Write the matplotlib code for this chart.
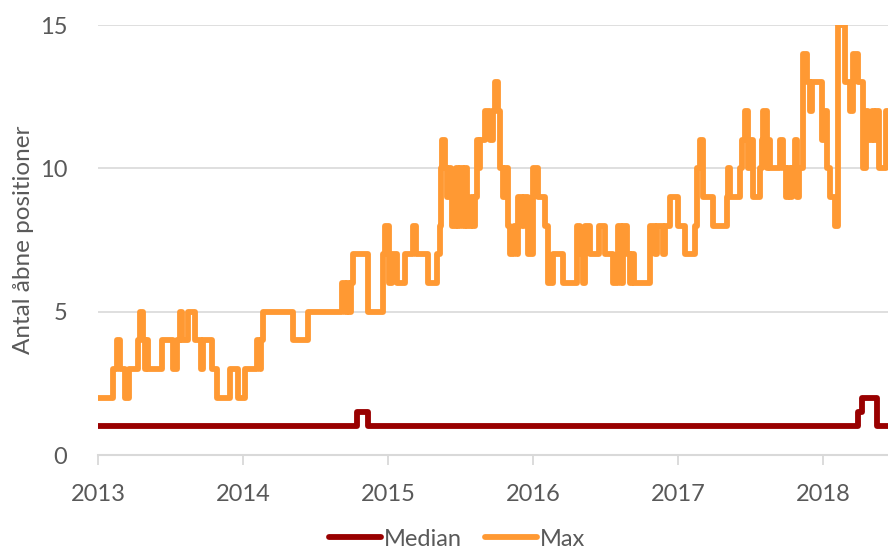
"""Antal åbne positioner: median og max over tid (trappekurver)."""

import matplotlib

matplotlib.use("Agg")
import matplotlib.pyplot as plt

# Max: skift-tidspunkter (decimalår) og niveau fra og med tidspunktet
MAX_DATES = [
    2013.000, 2013.103, 2013.131, 2013.152, 2013.186, 2013.214, 2013.276, 2013.290,
    2013.310, 2013.324, 2013.331, 2013.345, 2013.441, 2013.517, 2013.545, 2013.566,
    2013.579, 2013.621, 2013.669, 2013.710, 2013.724, 2013.786, 2013.821, 2013.910,
    2013.966, 2014.014, 2014.097, 2014.117, 2014.124, 2014.138, 2014.345, 2014.448,
    2014.683, 2014.703, 2014.717, 2014.731, 2014.745, 2014.759, 2014.862, 2014.966,
    2014.979, 2015.007, 2015.028, 2015.062, 2015.117, 2015.172, 2015.193, 2015.276,
    2015.338, 2015.359, 2015.366, 2015.372, 2015.393, 2015.407, 2015.421, 2015.434,
    2015.441, 2015.469, 2015.483, 2015.497, 2015.517, 2015.531, 2015.545, 2015.572,
    2015.586, 2015.600, 2015.614, 2015.628, 2015.634, 2015.669, 2015.703, 2015.724,
    2015.738, 2015.759, 2015.772, 2015.793, 2015.807, 2015.828, 2015.841, 2015.869,
    2015.890, 2015.897, 2015.924, 2015.938, 2015.966, 2016.000, 2016.034, 2016.083,
    2016.103, 2016.138, 2016.207, 2016.303, 2016.324, 2016.345, 2016.359, 2016.393,
    2016.455, 2016.497, 2016.552, 2016.586, 2016.607, 2016.621, 2016.648, 2016.669,
    2016.683, 2016.697, 2016.807, 2016.841, 2016.855, 2016.897, 2016.910, 2016.945,
    2017.000, 2017.048, 2017.117, 2017.131, 2017.152, 2017.172, 2017.241, 2017.338,
    2017.345, 2017.359, 2017.428, 2017.441, 2017.462, 2017.483, 2017.497, 2017.517,
    2017.566, 2017.579, 2017.586, 2017.614, 2017.621, 2017.634, 2017.703, 2017.724,
    2017.745, 2017.759, 2017.772, 2017.786, 2017.807, 2017.821, 2017.834, 2017.862,
    2017.890, 2017.910, 2017.924, 2017.993, 2018.014, 2018.028, 2018.048, 2018.083,
    2018.103, 2018.152, 2018.186, 2018.207, 2018.241, 2018.276, 2018.297, 2018.310,
    2018.338, 2018.352, 2018.366, 2018.386, 2018.434, 2018.448,
]
MAX_VALUES = [
    2, 3, 4, 3, 2, 3, 4, 5,
    4, 3, 4, 3, 4, 3, 4, 5,
    4, 5, 4, 3, 4, 3, 2, 3,
    2, 3, 4, 3, 4, 5, 4, 5,
    6, 5, 6, 5, 6, 7, 5, 7,
    8, 6, 7, 6, 7, 8, 7, 6,
    7, 8, 10, 11, 10, 9, 10, 9,
    8, 10, 8, 10, 8, 10, 8, 9,
    8, 9, 11, 10, 11, 12, 11, 12,
    13, 12, 10, 9, 10, 8, 7, 8,
    7, 9, 8, 9, 7, 10, 9, 8,
    6, 7, 6, 8, 7, 6, 8, 7,
    8, 7, 6, 8, 6, 8, 7, 6,
    7, 6, 8, 7, 8, 7, 8, 9,
    8, 7, 8, 10, 11, 9, 8, 9,
    10, 9, 10, 11, 12, 10, 11, 9,
    10, 11, 12, 10, 11, 10, 11, 10,
    9, 10, 9, 10, 11, 9, 10, 14,
    13, 12, 13, 11, 12, 10, 9, 8,
    15, 13, 12, 14, 13, 10, 12, 11,
    12, 11, 12, 10, 12, 12,
]

# Median
MEDIAN_DATES = [2013.000, 2014.786, 2014.862, 2018.241, 2018.269, 2018.372, 2018.448]
MEDIAN_VALUES = [1, 1.5, 1, 1.5, 2, 1, 1]

YEARS = [2013, 2014, 2015, 2016, 2017, 2018]
Y_TICKS = [0, 5, 10, 15]

ORANGE = "#FF9933"
DARK_RED = "#990000"
GRID = "#D9D9D9"
TEXT = "#595959"


def main() -> None:
    plt.rcParams["font.family"] = ["Lato", "DejaVu Sans"]

    fig = plt.figure(figsize=(8.88, 5.49), dpi=100)
    ax = fig.add_axes([98 / 888, 94 / 549, 790 / 888, 430 / 549])

    line_kw = dict(drawstyle="steps-post", lw=4.2, solid_joinstyle="round", solid_capstyle="round")
    ax.plot(MEDIAN_DATES, MEDIAN_VALUES, color=DARK_RED, label="Median", zorder=3, **line_kw)
    ax.plot(MAX_DATES, MAX_VALUES, color=ORANGE, label="Max", zorder=3, **line_kw)

    ax.set_xlim(2013, MAX_DATES[-1])
    ax.set_ylim(0, 15)
    ax.set_xticks(YEARS)
    ax.set_xticklabels([str(y) for y in YEARS])
    ax.set_yticks(Y_TICKS)

    ax.grid(axis="y", color=GRID, lw=1.2, zorder=0)
    ax.set_axisbelow(True)
    for side in ("top", "right", "left"):
        ax.spines[side].set_visible(False)
    ax.spines["bottom"].set_color(GRID)
    ax.spines["bottom"].set_linewidth(1.5)
    ax.spines["bottom"].set_zorder(1)

    ax.tick_params(axis="x", length=7, width=1.3, color=GRID, labelcolor=TEXT,
                   labelsize=17, pad=14)
    ax.tick_params(axis="y", length=0, labelcolor=TEXT, labelsize=17, pad=22)
    ax.set_ylabel("Antal åbne positioner", color=TEXT, fontsize=17.5, labelpad=4)

    fig.legend(loc="center", bbox_to_anchor=(457 / 888, 1 - 539 / 549), ncol=2,
               frameon=False, fontsize=17, handlelength=2.2, handletextpad=0.1,
               columnspacing=1.0, labelcolor=TEXT)

    fig.savefig("out.png", dpi=100)


if __name__ == "__main__":
    main()
